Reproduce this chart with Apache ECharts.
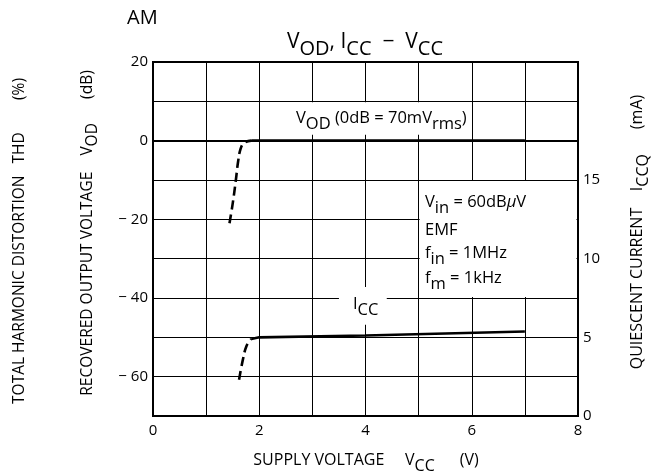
<!DOCTYPE html>
<html>
<head>
<meta charset="utf-8">
<script src="https://cdn.jsdelivr.net/npm/echarts@6/dist/echarts.min.js"></script>
<style>
html,body{margin:0;padding:0;background:#fff;}
#c{width:665px;height:476px;}
</style>
</head>
<body>
<div id="c"></div>
<script>
// ---- data ----
const xTickLabels = ['0', '', '2', '', '4', '', '6', '', '8'];
const vodSolidX = [1.85, 2.0, 7.0];
const vodSolidY = [0, 0, 0];
const vodDashX = [1.44, 1.50, 1.56, 1.60, 1.65, 1.72, 1.85];
const vodDashY = [-21, -16, -10, -5.5, -2, -0.5, 0];
const iccSolidX = [1.85, 2.0, 4.0, 7.0];
const iccSolidY = [4.9, 5.0, 5.12, 5.37];
const iccDashX = [1.62, 1.69, 1.76, 1.85];
const iccDashY = [2.3, 3.55, 4.45, 4.9];
const leftTickValues = [20, 0, -20, -40, -60];
const rightTickValues = [0, 5, 10, 15];

const zip = (a, b) => a.map((v, i) => [v, b[i]]);
const FF = '"Open Sans", "Noto Sans", sans-serif';

const chart = echarts.init(document.getElementById('c'), null, {renderer: 'canvas'});

const option = {
  backgroundColor: '#fff',
  animation: false,
  grid: {left: 153, right: 87, top: 62, bottom: 60, show: true, borderColor: '#000', borderWidth: 2, backgroundColor: 'transparent'},
  xAxis: {
    type: 'value', min: 0, max: 8, interval: 1,
    axisLine: {show: true, lineStyle: {color: '#000', width: 2}},
    axisTick: {show: false},
    splitLine: {show: true, lineStyle: {color: '#000', width: 1}},
    axisLabel: {color: '#000', fontSize: 15, fontFamily: FF, margin: 7,
      formatter: v => xTickLabels[Math.round(v)] || ''}
  },
  yAxis: [{
    type: 'value', min: -70, max: 20, interval: 10,
    axisLine: {show: true, lineStyle: {color: '#000', width: 2}},
    axisTick: {show: false},
    splitLine: {show: true, lineStyle: {color: '#000', width: 1}},
    axisLabel: {color: '#000', fontSize: 15, fontFamily: FF, margin: 5,
      formatter: v => leftTickValues.indexOf(v) >= 0 ? (v < 0 ? '\u2212 ' + Math.abs(v) : String(v)) : ''}
  }, {
    type: 'value', min: 0, max: 22.5, interval: 5, position: 'right',
    axisLine: {show: true, lineStyle: {color: '#000', width: 2}},
    axisTick: {show: false},
    splitLine: {show: false},
    axisLabel: {color: '#000', fontSize: 15, fontFamily: FF, margin: 5,
      formatter: v => rightTickValues.indexOf(v) >= 0 ? String(v) : ''}
  }],
  series: [
    {type: 'line', yAxisIndex: 0, data: zip(vodSolidX, vodSolidY), symbol: 'none',
     lineStyle: {color: '#000', width: 2.6}, z: 3},
    {type: 'line', yAxisIndex: 0, data: zip(vodDashX, vodDashY), symbol: 'none', smooth: 0.4,
     lineStyle: {color: '#000', width: 2.6, type: [9, 5]}, z: 3},
    {type: 'line', yAxisIndex: 1, data: zip(iccSolidX, iccSolidY), symbol: 'none',
     lineStyle: {color: '#000', width: 2.6}, z: 3},
    {type: 'line', yAxisIndex: 1, data: zip(iccDashX, iccDashY), symbol: 'none', smooth: 0.4,
     lineStyle: {color: '#000', width: 2.6, type: [9, 5]}, z: 3}
  ]
};
chart.setOption(option);

const px = (x, y) => chart.convertToPixel({xAxisIndex: 0, yAxisIndex: 0}, [x, y]);

function richSub(base, sub, drop) {
  drop = drop || 5;
  return {
    b: {fontSize: base, fontFamily: FF, lineHeight: base + 1, verticalAlign: 'top', fill: '#000'},
    s: {fontSize: sub, fontFamily: FF, lineHeight: base + 1 + 2 * drop, fill: '#000'},
    i: {fontSize: base, fontFamily: FF, fontStyle: 'italic', lineHeight: base + 1, verticalAlign: 'top', fill: '#000'}
  };
}

const p5top = px(5, -10), p8bot = px(8, -40);

const AN = 16.5;   // annotation font
const NM = 16;     // axis name font

const graphics = [
  // white backgrounds
  {type: 'rect', z: 10, shape: {x: p5top[0] + 1, y: p5top[1] + 1, width: p8bot[0] - p5top[0] - 2.5, height: p8bot[1] - p5top[1] - 2}, style: {fill: '#fff'}},
  {type: 'rect', z: 10, shape: {x: px(2.58, 0)[0], y: px(0, 10)[1] + 1, width: px(5.85, 0)[0] - px(2.58, 0)[0], height: px(0, 1.5)[1] - px(0, 10)[1] - 1}, style: {fill: '#fff'}},
  {type: 'rect', z: 10, shape: {x: px(3.5, 0)[0], y: px(0, -37.2)[1], width: px(4.4, 0)[0] - px(3.5, 0)[0], height: px(0, -46.8)[1] - px(0, -37.2)[1]}, style: {fill: '#fff'}},
  // texts
  {type: 'text', z: 11, style: {x: 127, y: 18, text: 'AM', fontSize: 20, fontFamily: FF, fill: '#000', verticalAlign: 'middle'}},
  {type: 'text', z: 11, style: {x: 365, y: 49, align: 'center', verticalAlign: 'middle',
    text: '{b|V}{s|OD}{b|, I}{s|CC}{b|  \u2212  V}{s|CC}', rich: richSub(21, 20, 6)}},
  {type: 'text', z: 11, style: {x: 296, y: 124, verticalAlign: 'middle',
    text: '{b|V}{s|OD}{b| (0dB = 70mV}{s|rms}{b|)}', rich: richSub(AN, AN)}},
  {type: 'text', z: 11, style: {x: 353, y: 310, verticalAlign: 'middle',
    text: '{b|I}{s|CC}', rich: richSub(AN, AN)}},
  {type: 'text', z: 11, style: {x: 425, y: 208, verticalAlign: 'middle',
    text: '{b|V}{s|in}{b| = 60dB}{i|\u03bc}{b|V}', rich: richSub(AN, AN)}},
  {type: 'text', z: 11, style: {x: 425, y: 230, verticalAlign: 'middle', text: 'EMF', fontSize: AN, fontFamily: FF, fill: '#000'}},
  {type: 'text', z: 11, style: {x: 425, y: 259, verticalAlign: 'middle',
    text: '{b|f}{s|in}{b| = 1MHz}', rich: richSub(AN, AN)}},
  {type: 'text', z: 11, style: {x: 425, y: 284, verticalAlign: 'middle',
    text: '{b|f}{s|m}{b| = 1kHz}', rich: richSub(AN, AN)}},
  // axis names
  {type: 'text', z: 11, x: 20, y: 241, rotation: Math.PI / 2, style: {x: 0, y: 0, align: 'center', verticalAlign: 'middle',
    text: 'TOTAL HARMONIC DISTORTION   THD        (%)', fontSize: 15.5, fontFamily: FF, fill: '#000'}},
  {type: 'text', z: 11, x: 93, y: 233, rotation: Math.PI / 2, style: {x: 0, y: 0, align: 'center', verticalAlign: 'middle',
    text: '{b|RECOVERED OUTPUT VOLTAGE    V}{s|OD}{b|      (dB)}', rich: richSub(15.5, 15.5)}},
  {type: 'text', z: 11, x: 643, y: 232, rotation: Math.PI / 2, style: {x: 0, y: 0, align: 'center', verticalAlign: 'middle',
    text: '{b|QUIESCENT CURRENT    I}{s|CCQ}{b|      (mA)}', rich: richSub(NM, NM)}},
  {type: 'text', z: 11, style: {x: 366, y: 466, align: 'center', verticalAlign: 'middle',
    text: '{b|SUPPLY VOLTAGE     V}{s|CC}{b|      (V)}', rich: richSub(NM, NM)}}
];
chart.setOption({graphic: graphics});
</script>
</body>
</html>
